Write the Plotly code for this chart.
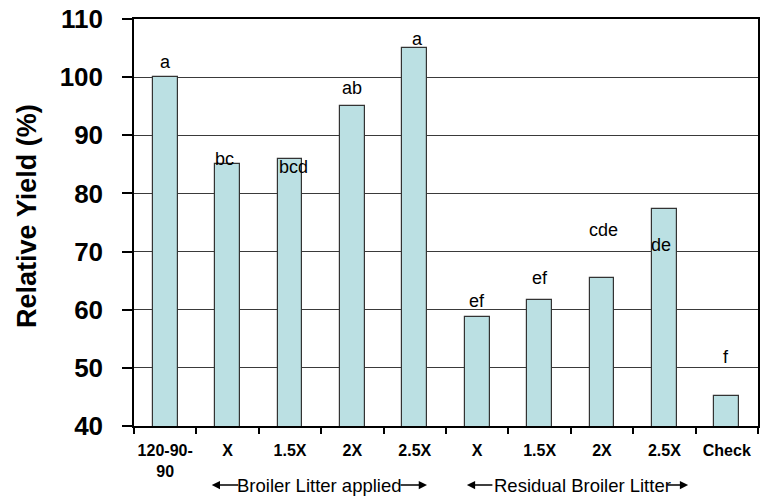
import plotly.graph_objects as go

# Treatments and relative yield (% of the 120-90-90 fertilizer standard)
tick_labels = ["120-90-<br>90", "X", "1.5X", "2X", "2.5X", "X", "1.5X", "2X", "2.5X", "Check"]
relative_yield = [100, 85, 86, 95, 105, 58.8, 61.6, 65.4, 77.4, 45.2]

# Mean-separation letters and where they sit on the y scale
letters = ["a", "bc", "bcd", "ab", "a", "ef", "ef", "cde", "de", "f"]
letter_y = [102.6, 85.9, 84.6, 98.1, 106.5, 61.55, 65.4, 73.7, 71.1, 51.9]
letter_dx = [0, -3, 3, 0, 3, 0, 0, 1, -3, -1]

y_ticks = [40, 50, 60, 70, 80, 90, 100, 110]

FONT = "Liberation Sans, Arial, sans-serif"
x_pos = list(range(len(tick_labels)))

fig = go.Figure()
fig.add_trace(go.Bar(
    x=x_pos, y=relative_yield, width=0.4,
    marker=dict(color="#BBE0E3", line=dict(color="#333333", width=1.2)),
    hoverinfo="skip",
))

# significance letters
for xi, txt, yv, dx in zip(x_pos, letters, letter_y, letter_dx):
    fig.add_annotation(x=xi, y=yv, text=txt, showarrow=False, xshift=dx,
                       xanchor="center", yanchor="middle",
                       font=dict(family=FONT, size=18, color="black"))

# group captions under the axis, with arrows on both sides
group_y = -0.145
for cx, caption in [(0.298, "Broiler Litter applied"), (0.719, "Residual Broiler Litter")]:
    fig.add_annotation(xref="paper", yref="paper", x=cx, y=group_y,
                       text=caption, showarrow=False,
                       xanchor="center", yanchor="middle",
                       font=dict(family=FONT, size=18.5, color="black"))
for hx, dx in [(0.1246, 28), (0.4696, -28), (0.5335, 27), (0.888, -22)]:
    fig.add_annotation(xref="paper", yref="paper", x=hx, y=group_y, text="",
                       showarrow=True, ax=dx, ay=0, axref="pixel", ayref="pixel",
                       arrowhead=2, arrowsize=1.1, arrowwidth=1.5, arrowcolor="black")

# y-axis title
fig.add_annotation(xref="paper", yref="paper", x=-0.1725, y=0.517,
                   text="Relative Yield (%)", textangle=-90, showarrow=False,
                   xanchor="center", yanchor="middle",
                   font=dict(family=FONT, size=27, color="black", weight="bold"))

fig.update_layout(
    width=761, height=500,
    margin=dict(l=134, r=1, t=19, b=74),
    paper_bgcolor="white", plot_bgcolor="white",
    showlegend=False, bargap=0,
)
fig.update_xaxes(
    range=[-0.5, 9.5], tickmode="array", tickvals=x_pos, ticktext=tick_labels,
    ticks="", ticklabelstandoff=9,
    tickfont=dict(family=FONT, size=16, color="black", weight="bold"),
    showline=True, linecolor="black", linewidth=1.5, mirror=True,
    showgrid=False, zeroline=False,
    minor=dict(tickvals=[i - 0.5 for i in range(len(tick_labels) + 1)],
               ticks="outside", ticklen=6, tickcolor="black", tickwidth=1.5,
               showgrid=False),
)
fig.update_yaxes(
    range=[40, 110], tickmode="array", tickvals=y_ticks,
    ticks="outside", ticklen=10, tickcolor="black", tickwidth=1.5,
    ticklabelstandoff=14,
    tickfont=dict(family=FONT, size=26, color="black", weight="bold"),
    showline=True, linecolor="black", linewidth=1.5, mirror=True,
    showgrid=True, gridcolor="#3a3a3a", gridwidth=1.3, zeroline=False,
)

fig.write_html("out.html")
